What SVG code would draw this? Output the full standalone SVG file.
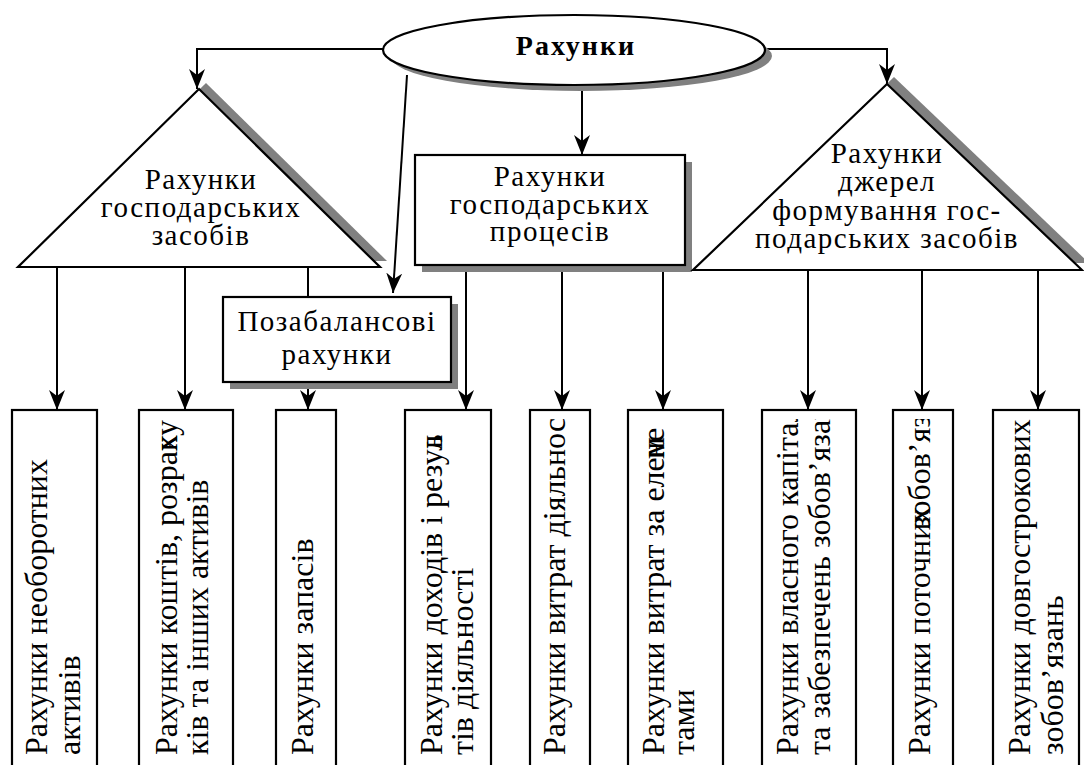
<svg xmlns="http://www.w3.org/2000/svg" width="1084" height="765" viewBox="0 0 1084 765">
<style>
.ln{fill:none;stroke:#000;stroke-width:2}
.sh{fill:#808080;stroke:none}
.nd{fill:#fff;stroke:#000;stroke-width:2.2}
.t{font-family:'Liberation Serif','Times New Roman',Times,'DejaVu Serif',serif;font-size:29px;letter-spacing:1.5px;fill:#000;text-anchor:middle}
.b{font-weight:bold;font-size:28px;letter-spacing:2px}
.v{font-family:'Liberation Serif','Times New Roman',Times,'DejaVu Serif',serif;font-size:32px;fill:#000}
</style>
<defs>
<marker id="ar" markerUnits="userSpaceOnUse" viewBox="0 0 20 16" markerWidth="20" markerHeight="16" refX="20" refY="8" orient="auto">
<path d="M0,0 L20,8 L0,16 L6,8 z" fill="#000"/>
</marker>
<clipPath id="cl" clipPathUnits="userSpaceOnUse"><rect x="0" y="419" width="1084" height="346"/></clipPath>
</defs>
<rect width="1084" height="765" fill="#fff"/>
<g id="connectors">
<path class="ln" d="M384,49 H197 V89" marker-end="url(#ar)"/>
<path class="ln" d="M765,49 H887 V84" marker-end="url(#ar)"/>
<path class="ln" d="M582,85 V155" marker-end="url(#ar)"/>
<path class="ln" d="M407,75 L393,293" marker-end="url(#ar)"/>
<path class="ln" d="M57,267 V410" marker-end="url(#ar)"/>
<path class="ln" d="M185,267 V410" marker-end="url(#ar)"/>
<path class="ln" d="M308,267 V410" marker-end="url(#ar)"/>
<path class="ln" d="M466,265 V410" marker-end="url(#ar)"/>
<path class="ln" d="M562,265 V410" marker-end="url(#ar)"/>
<path class="ln" d="M663,265 V410" marker-end="url(#ar)"/>
<path class="ln" d="M808,270 V410" marker-end="url(#ar)"/>
<path class="ln" d="M922,270 V410" marker-end="url(#ar)"/>
<path class="ln" d="M1038,270 V410" marker-end="url(#ar)"/>
</g>
<g id="root">
<ellipse class="sh" cx="581" cy="56" rx="191" ry="35"/>
<ellipse class="nd" cx="574" cy="50" rx="191" ry="35"/>
<text class="t b" x="576" y="55">Рахунки</text>
</g>
<g id="tri-assets">
<polygon class="sh" points="206,83 387,261 25,261"/>
<polygon class="nd" points="199,89 380,267 18,267"/>
<text class="t" x="201" y="189">Рахунки</text>
<text class="t" x="201" y="217">господарських</text>
<text class="t" x="201" y="245">засобів</text>
</g>
<g id="box-processes">
<rect class="sh" x="422" y="162" width="270" height="110"/>
<rect class="nd" x="415" y="155" width="270" height="110"/>
<text class="t" x="550" y="186">Рахунки</text>
<text class="t" x="550" y="214">господарських</text>
<text class="t" x="550" y="241">процесів</text>
</g>
<g id="tri-sources">
<polygon class="sh" points="894,77 1089,263 700,263"/>
<polygon class="nd" points="887,84 1082,270 693,270"/>
<text class="t" x="887" y="163">Рахунки</text>
<text class="t" x="887" y="191">джерел</text>
<text class="t" x="887" y="220">формування гос-</text>
<text class="t" x="887" y="248">подарських засобів</text>
</g>
<g id="box-offbalance">
<rect class="sh" x="230" y="304" width="228" height="85"/>
<rect class="nd" x="223" y="297" width="228" height="85"/>
<text class="t" x="337" y="331">Позабалансові</text>
<text class="t" x="337" y="364">рахунки</text>
</g>
<g id="b1">
<rect class="nd" x="12" y="410" width="85" height="360"/>
<text class="v" transform="translate(47,755) rotate(-90)">Рахунки необоротних<tspan x="0" y="33">активів</tspan></text>
</g>
<g id="b2">
<rect class="nd" x="139" y="410" width="94" height="360"/>
<text class="v" transform="translate(177,755) rotate(-90)">Рахунки коштів, розрах<tspan dx="-16">ку</tspan><tspan x="0" y="31">ків та інших активів</tspan></text>
</g>
<g id="b3">
<rect class="nd" x="276" y="410" width="60" height="360"/>
<text class="v" transform="translate(313,755) rotate(-90)">Рахунки запасів</text>
</g>
<g id="b4">
<rect class="nd" x="405" y="410" width="86" height="360"/>
<text class="v" transform="translate(442,755) rotate(-90)">Рахунки доходів і резул<tspan dx="-14">ь</tspan><tspan x="0" y="31">тів діяльності</tspan></text>
</g>
<g id="b5">
<rect class="nd" x="530" y="410" width="60" height="360"/>
<g clip-path="url(#cl)"><text class="v" transform="translate(565,755) rotate(-90)">Рахунки витрат діяльності</text></g>
</g>
<g id="b6">
<rect class="nd" x="628" y="410" width="95" height="360"/>
<text class="v" transform="translate(664,755) rotate(-90)">Рахунки витрат за елем<tspan dx="-22">н</tspan>е<tspan x="0" y="30">тами</tspan></text>
</g>
<g id="b7">
<rect class="nd" x="762" y="410" width="94" height="360"/>
<g clip-path="url(#cl)"><text class="v" transform="translate(798,755) rotate(-90)">Рахунки власного капітал<tspan x="0" y="32">та забезпечень зобов’язань</tspan></text></g>
</g>
<g id="b8">
<rect class="nd" x="893" y="410" width="60" height="360"/>
<g clip-path="url(#cl)"><text class="v" transform="translate(930,755) rotate(-90)">Рахунки поточних<tspan dx="-22">зобов’язань</tspan></text></g>
</g>
<g id="b9">
<rect class="nd" x="993" y="410" width="86" height="360"/>
<text class="v" transform="translate(1030,755) rotate(-90)">Рахунки довгострокових<tspan x="0" y="33">зобов’язань</tspan></text>
</g>
</svg>
